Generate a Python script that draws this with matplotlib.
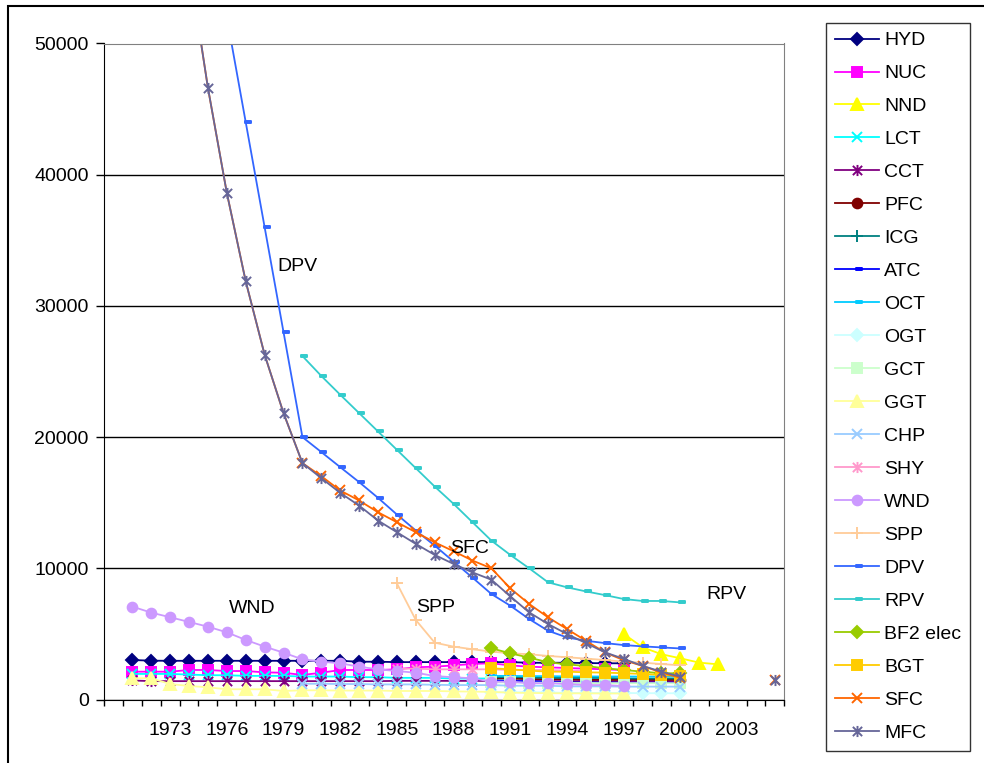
"""
Unit cost by technology, 1970-2005 (line chart with one series per technology).
"""

import numpy as np
import matplotlib
matplotlib.use("Agg")
import matplotlib.pyplot as plt
from matplotlib.path import Path
from matplotlib.patches import Rectangle

plt.rcParams["font.family"] = ["Liberation Sans", "DejaVu Sans"]
plt.rcParams["font.size"] = 14

nan = np.nan

# --- data: (first year, values) per technology -----------------------------
HYD_START = 1971
HYD = [3010, 2960, 2950, 2950, 2950, 2950, 2950, 2950, 2950, 2950, 2950, 2950,
       2880, 2880, 2850, 2850, 2850, 2850, 2850, 2850, 2850, 2800, 2800, 2800,
       2780, 2760, 2760]
NUC_START = 1971
NUC = [2120, 2120, 2120, 2250, 2250, 2170, 2170, 2070, 2040, 1870, 2040, 2250,
       2250, 2250, 2300, 2460, 2500, 2600, 2710, 2760, 2600, 2500, 2450, 2400,
       2350, 2300, 2250]
NND_START = 1997
NND = [5000, 3980, 3450, 3140, 2810, 2680]
LCT_START = 1971
LCT = [1950, 1950, 1950, 1900, 1850, 1850, 1800, 1800, 1800, 1750, 1750, 1750,
       1700, 1700, 1650, 1650, 1650, 1600, 1600, 1600, 1600, 1600, 1600, 1600,
       1550, 1550, 1550, 1550, 1550, 1550]
CCT_START = 1971
CCT = [1450, 1400, 1400, 1400, 1400, 1400, 1400, 1400, 1400, 1400, 1400, 1400,
       1400, 1400, 1420, 1420, 1420, 1420, 1420, 1420, 1400, 1400, 1400, 1400,
       1400, 1400, 1400, 1400, 1400, 1400]
PFC_START = 1990
PFC = [1600, 1600, 1550, 1550, 1550, 1500, 1500, 1500, 1500, 1500, 1500]
ICG_START = 1990
ICG = [1700, 1700, 1700, 1650, 1650, 1650, 1650, 1600, 1600, 1600, 1600]
ATC_START = 1990
ATC = [1450, 1400, 1400, 1350, 1300, 1300, 1300, 1280, 1280, 1280, 1280]
OCT_START = 1990
OCT = [1800, 1800, 1780, 1780, 1760, 1760, 1750, 1750, 1750, 1750, 1750]
OGT_START = 1990
OGT = [550, 550, 550, 550, 500, 500, 500, 500, 480, 480, 470]
GCT_START = 1990
GCT = [1300, 1300, 1280, 1280, 1260, 1260, 1250, 1250, 1250, 1250, 1240]
GGT_START = 1971
GGT = [1620, 1620, 1180, 1030, 930, 780, 780, 780, 650, 700, 700, 680, 680,
       680, 650, 650, 650, 620, 600, 580, 520, 500, 480, 470, 470, 460, 460]
CHP_START = 1980
CHP = [1200, 1200, 1180, 1180, 1150, 1150, 1150, 1120, 1100, 1100, 1100, 1050,
       1050, 1050, 1000, 1000, 1000, 980, 980, 980, 980]
SHY_START = 1985
SHY = [2350, 2350, 2300, 2300, 2300, 2300, 2250, 2250, 2250, 2200, 2200]
WND_START = 1971
WND = [7080, 6620, 6270, 5910, 5550, 5120, 4540, 4030, 3570, 3060, 2880, 2760,
       2500, 2300, 2170, 2040, 1790, 1690, 1620, 1360, 1360, 1240, 1240, 1180,
       1100, 1100, 1030]
SPP_START = 1985
SPP = [8850, 6060, 4330, 4030, 3830, 3650, 3520, 3450, 3320, 3220, 3120, 3010,
       2880, 2810, 2700, 2610]
DPV_START = 1976
DPV = [52000, 44000, 36000, 28000, 20000, 18860, 17710, 16570, 15370, 14100,
       12880, 11730, 10510, 9290, 8040, 7150, 6130, 5240, 4730, 4480, 4300,
       4150, 4050, 3970, 3890]
RPV_START = 1980
RPV = [26180, 24660, 23230, 21830, 20430, 19030, 17630, 16230, 14910, 13510,
       12110, 11020, 10000, 8930, 8550, 8240, 7960, 7660, 7510, 7510, 7400]
BF2_START = 1990
BF2 = [3900, 3520, 3190, 2840, 2680, 2550, 2380, 2250, 2120, 2000, 2000]
BGT_START = 1990
BGT = [2380, 2300, 2200, 2120, 2120, 2070, 2050, 2000, 1950, 1870, 1790]
SFC_START = 1974
SFC = [56000, 46620, 38610, 31870, 26280, 21830, 18020, 17020, 15930, 15170,
       14270, 13510, 12750, 11980, 11300, 10590, 10000, 8470, 7280, 6260, 5370,
       4480, 3590, 3000, 2560, 2050, 1660, nan, nan, nan, nan, 1490]
MFC_START = 1974
MFC = [56000, 46620, 38610, 31870, 26280, 21830, 18020, 16870, 15750, 14780,
       13640, 12750, 11860, 11020, 10330, 9690, 9130, 7860, 6640, 5750, 4990,
       4300, 3600, 3100, 2560, 2120, 1740, nan, nan, nan, nan, 1490]

# SFC points before this year are drawn as line only (no markers)
SFC_FIRST_MARKED = 1980

YEAR_TICKS = [1973, 1976, 1979, 1982, 1985, 1988, 1991, 1994, 1997, 2000, 2003]

# Excel-like marker shapes
ASTERISK = Path([(-1, -1), (1, 1), (-1, 1), (1, -1), (0, -1.2), (0, 1.2)],
                [Path.MOVETO, Path.LINETO, Path.MOVETO, Path.LINETO,
                 Path.MOVETO, Path.LINETO])
DASH = Path([(-0.2, -0.3), (1.0, -0.3), (1.0, 0.3), (-0.2, 0.3), (-0.2, -0.3)],
            [Path.MOVETO, Path.LINETO, Path.LINETO, Path.LINETO, Path.CLOSEPOLY])

# name, start, values, colour, marker, marker size
series = [
    ("HYD", HYD_START, HYD, "#000080", "D", 6.5),
    ("NUC", NUC_START, NUC, "#FF00FF", "s", 6.5),
    ("NND", NND_START, NND, "#FFFF00", "^", 8),
    ("LCT", LCT_START, LCT, "#00FFFF", "x", 7),
    ("CCT", CCT_START, CCT, "#800080", ASTERISK, 8),
    ("PFC", PFC_START, PFC, "#800000", "o", 7),
    ("ICG", ICG_START, ICG, "#008080", "+", 8),
    ("ATC", ATC_START, ATC, "#0000FF", DASH, 7),
    ("OCT", OCT_START, OCT, "#00CCFF", DASH, 7),
    ("OGT", OGT_START, OGT, "#CCFFFF", "D", 6.5),
    ("GCT", GCT_START, GCT, "#CCFFCC", "s", 6.5),
    ("GGT", GGT_START, GGT, "#FFFF99", "^", 8),
    ("CHP", CHP_START, CHP, "#99CCFF", "x", 7),
    ("SHY", SHY_START, SHY, "#FF99CC", ASTERISK, 8),
    ("WND", WND_START, WND, "#CC99FF", "o", 7),
    ("SPP", SPP_START, SPP, "#FFCC99", "+", 8),
    ("DPV", DPV_START, DPV, "#3366FF", DASH, 7),
    ("RPV", RPV_START, RPV, "#33CCCC", DASH, 7),
    ("BF2 elec", BF2_START, BF2, "#99CC00", "D", 6.5),
    ("BGT", BGT_START, BGT, "#FFCC00", "s", 6.5),
    ("SFC", SFC_START, SFC, "#FF6600", "x", 7),
    ("MFC", MFC_START, MFC, "#666699", ASTERISK, 8),
]

fig = plt.figure(figsize=(9.84, 7.63), dpi=100)
ax = fig.add_axes([104 / 984, 1 - 699.5 / 763, (784.3 - 104) / 984,
                   (699.5 - 43.5) / 763])

for name, start, vals, color, marker, ms in series:
    x = np.arange(start, start + len(vals))
    every = None
    if name == "SFC":
        every = [i for i in range(len(vals)) if x[i] >= SFC_FIRST_MARKED]
    ax.plot(x, vals, color=color, lw=1.3, marker=marker, ms=ms,
            mfc=color, mec=color, mew=1.4, label=name, markevery=every)

ax.set_xlim(1969.5, 2005.5)
ax.set_ylim(0, 50000)
ax.set_yticks(np.arange(0, 50001, 10000))
ax.yaxis.grid(True, color="black", lw=1)
ax.set_axisbelow(True)

ax.set_xticks(YEAR_TICKS)
ax.set_xticklabels([str(y) for y in YEAR_TICKS])
ax.set_xticks(np.arange(1969.5, 2006, 1), minor=True)
ax.tick_params(axis="x", which="major", length=0, pad=16)
ax.tick_params(axis="x", which="minor", length=4, width=1, direction="out")
ax.tick_params(axis="y", length=6, width=1, direction="out", pad=5)

for side in ("top", "right"):
    ax.spines[side].set_color("#808080")
for side in ("left", "bottom"):
    ax.spines[side].set_color("black")

# series names written next to the curves
ax.text(1978.65, 33000, "DPV", ha="left", va="center")
ax.text(1976.1, 6960, "WND", ha="left", va="center")
ax.text(1986.0, 7000, "SPP", ha="left", va="center")
ax.text(1987.8, 11530, "SFC", ha="left", va="center")
ax.text(2001.35, 8020, "RPV", ha="left", va="center")

leg = ax.legend(loc="upper left", bbox_to_anchor=(826 / 984, 1 - 23 / 763),
                bbox_transform=fig.transFigure, borderaxespad=0,
                frameon=True, fancybox=False, edgecolor="black",
                handlelength=2.25, handletextpad=0.3, labelspacing=0.79,
                borderpad=0.45, fontsize=14)
leg.get_frame().set_linewidth(1.0)

# chart area border
fig.patches.append(Rectangle((8 / 984, -0.1), 1.2, 1.1 - 6 / 763,
                             transform=fig.transFigure, fill=False,
                             edgecolor="black", lw=1.5))

fig.savefig("out.png", dpi=100)
